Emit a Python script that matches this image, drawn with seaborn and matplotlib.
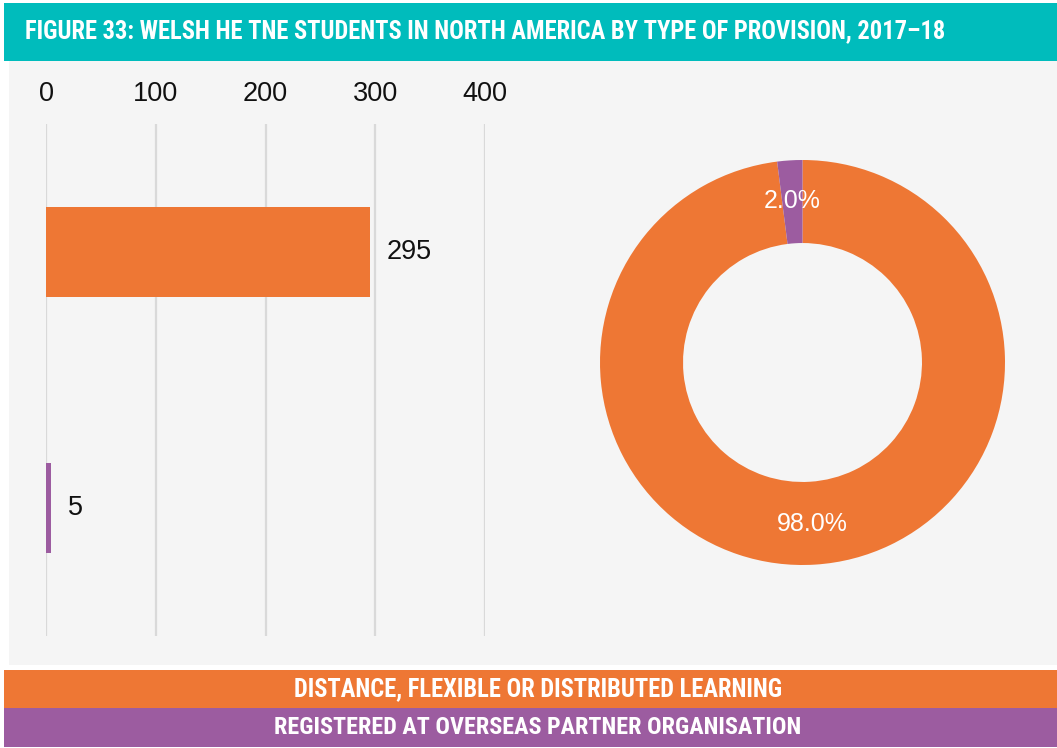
import matplotlib
matplotlib.use("Agg")
import matplotlib.pyplot as plt
import seaborn as sns
import pandas as pd
from matplotlib import font_manager
from matplotlib.patches import Rectangle

categories = ["Distance, flexible or distributed learning",
              "Registered at overseas partner organisation"]
values = [295, 5]
shares = [98.0, 2.0]
band_labels = ["DISTANCE, FLEXIBLE OR DISTRIBUTED LEARNING",
               "REGISTERED AT OVERSEAS PARTNER ORGANISATION"]
title = "FIGURE 33: WELSH HE TNE STUDENTS IN NORTH AMERICA BY TYPE OF PROVISION, 2017\u201318"
xticks = [0, 100, 200, 300, 400]

TEAL = "#00bcbc"
ORANGE = "#ee7734"
PURPLE = "#9c5ca0"
BG = "#f5f5f5"
colors = [ORANGE, PURPLE]

sns.set_theme(style="white")
available = {f.name for f in font_manager.fontManager.ttflist}
cond_family = None
for cand in ["Liberation Sans Narrow", "Roboto Condensed", "DejaVu Sans Condensed"]:
    if cand in available:
        cond_family = cand
        break
body = "Liberation Sans" if "Liberation Sans" in available else "DejaVu Sans"
plt.rcParams["font.family"] = [body, "DejaVu Sans"]

W, H = 1057, 748
fig = plt.figure(figsize=(W / 100, H / 100), dpi=100)
fig.patch.set_facecolor("white")

def px_rect(x0, y0, x1, y1, color):
    fig.patches.append(Rectangle((x0 / W, 1 - y1 / H), (x1 - x0) / W, (y1 - y0) / H,
                                 transform=fig.transFigure, facecolor=color,
                                 edgecolor="none", zorder=-5))

px_rect(4, 3, W, 61, TEAL)
px_rect(9, 61, W, 665, BG)
px_rect(4, 670, W, 708, ORANGE)
px_rect(4, 708, W, 747, PURPLE)

if cond_family:
    tkw = dict(family=[cond_family, "DejaVu Sans"], fontweight="bold")
else:
    tkw = dict(family=["DejaVu Sans"], fontweight="bold", fontstretch="condensed")

t = fig.text(25 / W, 1 - 31 / H, title, color="white", fontsize=18, ha="left", va="center", **tkw)
b1 = fig.text(538 / W, 1 - 689 / H, band_labels[0], color="white", fontsize=15, ha="center", va="center", **tkw)
b2 = fig.text(538 / W, 1 - 727 / H, band_labels[1], color="white", fontsize=15, ha="center", va="center", **tkw)

# fit title/band widths to reference
fig.canvas.draw()
r = fig.canvas.get_renderer()
for txt, target in [(t, 925), (b1, 493), (b2, 530)]:
    w = txt.get_window_extent(r).width
    txt.set_fontsize(txt.get_fontsize() * target / w)

# Bar chart
ax = fig.add_axes([46 / W, 1 - 636 / H, 439 / W, 512 / H], zorder=2)
ax.patch.set_alpha(0)
df = pd.DataFrame({"category": categories, "value": values})
sns.barplot(data=df, y="category", x="value", hue="category", palette=colors,
            orient="h", width=0.35, legend=False, ax=ax, saturation=1, linewidth=0)
ax.set_xlim(0, 400)
ax.set_xticks(xticks)
ax.xaxis.tick_top()
ax.tick_params(axis="x", length=0, pad=12, labelsize=19.5, labelcolor="#111111")
ax.set_yticks([])
ax.set_xlabel("")
ax.set_ylabel("")
for s in ax.spines.values():
    s.set_visible(False)
ax.grid(axis="x", color="#d9d9d9", linewidth=1.6)
ax.set_axisbelow(True)
for cont in ax.containers:
    ax.bar_label(cont, labels=[f"{v:g}" for v in cont.datavalues], padding=12,
                 fontsize=19.5, color="#111111")

# Donut
ax2 = fig.add_axes([600 / W, 1 - 565 / H, 405 / W, 405 / H], zorder=2)
ax2.patch.set_alpha(0)
wedges, texts, autotexts = ax2.pie(
    shares, colors=colors, startangle=90, counterclock=False, radius=1,
    autopct="%.1f%%", pctdistance=0.8,
    wedgeprops=dict(width=0.41, edgecolor="none"),
    textprops=dict(color="white", fontsize=18))
ax2.set_xlim(-1, 1)
ax2.set_ylim(-1, 1)
ax2.set_aspect("equal")
ax2.axis("off")

fig.savefig("out.png", dpi=100, facecolor="white")
